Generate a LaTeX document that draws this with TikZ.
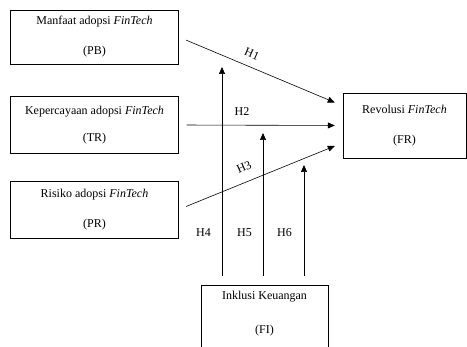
\documentclass[tikz,border=0pt]{standalone}
\usepackage{fontspec}
\setmainfont{Liberation Serif}
\usetikzlibrary{arrows.meta,calc}

\begin{document}
\begin{tikzpicture}[x=1pt,y=-1pt,font=\fontsize{12}{14}\selectfont]
      \useasboundingbox (0,0) rectangle (467,347);
      \begin{scope}[every node/.style={draw,thin,align=center,inner sep=0pt}]
        \node[minimum width=168pt,minimum height=54pt] (pb) at (94.5,37) {Manfaat adopsi \textit{FinTech}\\[16pt](PB)};
        \node[minimum width=168pt,minimum height=57pt] (tr) at (94.5,125) {Kepercayaan adopsi \textit{FinTech}\\[13pt](TR)};
        \node[minimum width=168pt,minimum height=57pt] (pr) at (94.5,209.5) {Risiko adopsi \textit{FinTech}\\[16pt](PR)};
        \node[minimum width=123pt,minimum height=65pt] (fr) at (404.5,125.5) {Revolusi \textit{FinTech}\\[16pt](FR)};
        \node[minimum width=127pt,anchor=north,inner ysep=6pt,text depth=30pt] (fi) at (264.5,285) {Inklusi Keuangan\\[20pt](FI)};
      \end{scope}
      \coordinate (t1) at ($(fr.west)+(-8,-23)$);
      \coordinate (t3) at ($(fr.west)+(-8,20.5)$);
      \coordinate (s4) at ($(fi.north)+(-42.5,0)$);
      \coordinate (s5) at ($(fi.north)+(-1.5,0)$);
      \coordinate (s6) at ($(fi.north)+(39.5,0)$);
      \coordinate (t4) at ($(s4)+(0,-218)$);
      \coordinate (t5) at ($(s5)+(0,-152)$);
      \coordinate (t6) at ($(s6)+(0,-120)$);
      \begin{scope}[every edge/.style={draw,line width=0.6pt,-{Triangle[length=7pt,width=6pt]}}]
        \path (pb.east) edge[shorten <=8pt] (t1);
        \path (tr.east) edge[shorten <=8pt,shorten >=8pt] (fr.west);
        \path (pr.east) edge[shorten <=8pt] (t3);
        \path (s4) edge[shorten <=9pt] (t4);
        \path (s5) edge[shorten <=9pt] (t5);
        \path (s6) edge[shorten <=9pt] (t6);
      \end{scope}
      \node[rotate=-23,inner sep=1pt] (h1) at (252,54) {H1};
      \node (h2) at (242,112) {H2};
      \node[rotate=24,inner sep=1pt] (h3) at (244,167) {H3};
      \node (h4) at (203.5,233) {H4};
      \node (h5) at (244.5,233) {H5};
      \node (h6) at (284.5,233) {H6};
    \end{tikzpicture}
\end{document}
